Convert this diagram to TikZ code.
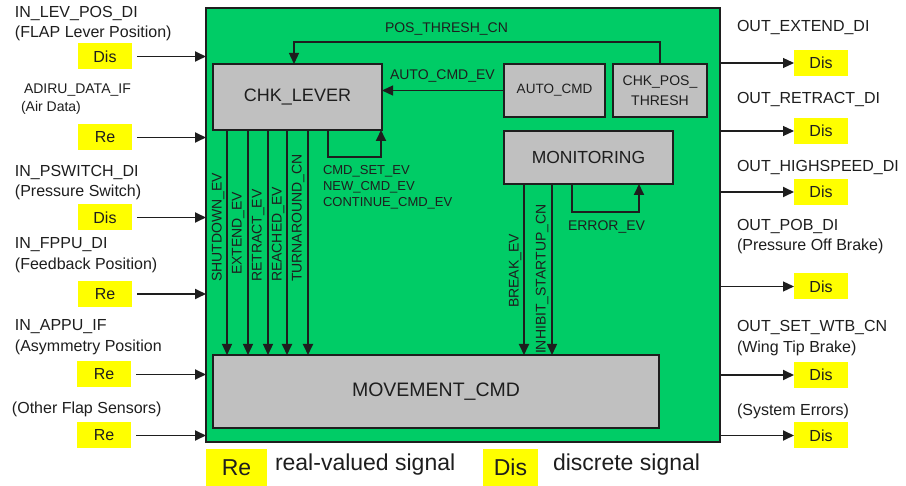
\documentclass[tikz,border=0pt]{standalone}
\usepackage{fontspec}
\setmainfont{Liberation Sans}
\usetikzlibrary{arrows.meta}
\definecolor{bggreen}{RGB}{0,204,102}
\definecolor{boxgray}{RGB}{192,192,192}
\definecolor{sigyellow}{RGB}{255,255,0}
\definecolor{ink}{RGB}{30,30,30}
\begin{document}
\begin{tikzpicture}[x=1pt,y=-1pt,
 lab/.style={anchor=west, inner sep=0pt, outer sep=0pt, text height=0.72em, text depth=0pt, text=ink, font=\fontsize{16}{19}\selectfont},
 slab/.style={lab, font=\fontsize{14}{17}\selectfont},
 elab/.style={lab, font=\fontsize{13}{16}\selectfont},
 vlab/.style={lab, rotate=90, font=\fontsize{14}{17}\selectfont},
 gbox/.style={draw=ink, line width=1.3pt, fill=boxgray, inner sep=0pt, outer sep=0pt, text=ink, align=center},
 sig/.style={fill=sigyellow, inner sep=0pt, outer sep=0pt, minimum width=54, minimum height=26, text=ink, font=\fontsize{16}{19}\selectfont},
 arr/.style={draw=ink, line width=1.5pt, -{Triangle[length=11pt,width=10pt]}},
]
\useasboundingbox (0,0) rectangle (906,486);
\fill[white] (0,0) rectangle (906,486);

% main block
\node[draw=ink, line width=1.3pt, fill=bggreen, minimum width=514, minimum height=434, inner sep=0pt, outer sep=0pt] (green) at (463,225) {};

% inner function blocks
\node[gbox, minimum width=169, minimum height=66, font=\fontsize{18}{21}\selectfont] (chk) at (297.5,97) {CHK\_LEVER};
\node[gbox, minimum width=101, minimum height=53, font=\fontsize{13.5}{16}\selectfont] (autocmd) at (554.5,90.5) {AUTO\_CMD};
\node[gbox, minimum width=94, minimum height=53, font=\fontsize{14}{20}\selectfont] (chkpos) at (660,90.5) {CHK\_POS\_\\THRESH};
\node[gbox, minimum width=169, minimum height=53, font=\fontsize{17.5}{21}\selectfont] (mon) at (588.5,157.5) {MONITORING};
\node[gbox, minimum width=446, minimum height=73, font=\fontsize{19.5}{23}\selectfont] (move) at (436,391.5) {MOVEMENT\_CMD};

% internal connectors
\draw[arr, line width=1.3pt] (chkpos.north) -- ++(0,-22) -| ([xshift=-3.5]chk.north);
\node[slab] (lpos) at (385,29) {POS\_THRESH\_CN};
\draw[arr, line width=1.3pt] (autocmd.west) -- (autocmd.west -| chk.east);
\node[slab] (lauto) at (390,76) {AUTO\_CMD\_EV};
\draw[arr, line width=1.8pt] ([xshift=30.5]chk.south) -- ++(0,27) -| ([xshift=83.5]chk.south);
\node[elab] (lc1) at (323,171) {CMD\_SET\_EV};
\node[elab] (lc2) at (323,187) {NEW\_CMD\_EV};
\node[elab] (lc3) at (323,203) {CONTINUE\_CMD\_EV};

\draw[arr, line width=1.2pt] ([xshift=-70.5]chk.south) coordinate (s1) -- (s1 |- move.north);
\draw[arr, line width=1.2pt] ([xshift=-49.5]chk.south) coordinate (s2) -- (s2 |- move.north);
\draw[arr, line width=1.2pt] ([xshift=-29.5]chk.south) coordinate (s3) -- (s3 |- move.north);
\draw[arr, line width=1.8pt] ([xshift=-10.5]chk.south) coordinate (s4) -- (s4 |- move.north);
\draw[arr, line width=1.8pt] ([xshift=10.5]chk.south) coordinate (s5) -- (s5 |- move.north);
\node[vlab] (v1) at (218,282) {SHUTDOWN\_EV};
\node[vlab] (v2) at (238,275) {EXTEND\_EV};
\node[vlab] (v3) at (258,282) {RETRACT\_EV};
\node[vlab] (v4) at (278,282) {REACHED\_EV};
\node[vlab] (v5) at (298,282) {TURNAROUND\_CN};

\draw[arr, line width=1.8pt] ([xshift=-64.5]mon.south) coordinate (m1) -- (m1 |- move.north);
\draw[arr, line width=1.5pt] ([xshift=-36.5]mon.south) coordinate (m2) -- (m2 |- move.north);
\node[vlab] (vb) at (515,308) {BREAK\_EV};
\node[vlab] (vi) at (542,354) {INHIBIT\_STARTUP\_CN};
\draw[arr, line width=1.8pt] ([xshift=-16.5]mon.south) -- ++(0,28) -| ([xshift=50.5]mon.south);
\node[slab] (lerr) at (568,227) {ERROR\_EV};

% inputs
\node[lab] (t1a) at (15,14) {IN\_LEV\_POS\_DI};
\node[lab] (t1b) at (15,34) {(FLAP Lever Position)};
\node[sig] (i1) at (105,56.5) {Dis};
\node[slab] (t2a) at (24,90) {ADIRU\_DATA\_IF};
\node[slab] (t2b) at (21,108) {(Air Data)};
\node[sig] (i2) at (105,137.5) {Re};
\node[lab] (t3a) at (15,173) {IN\_PSWITCH\_DI};
\node[lab] (t3b) at (15,193) {(Pressure Switch)};
\node[sig] (i3) at (105,217.5) {Dis};
\node[lab] (t4a) at (15,245) {IN\_FPPU\_DI};
\node[lab] (t4b) at (15,266) {(Feedback Position)};
\node[sig] (i4) at (105,294) {Re};
\node[lab] (t5a) at (15,327) {IN\_APPU\_IF};
\node[lab] (t5b) at (15,348) {(Asymmetry Position};
\node[sig] (i5) at (104,374.5) {Re};
\node[lab] (t6a) at (12,410) {(Other Flap Sensors)};
\node[sig] (i6) at (104,435.5) {Re};
\foreach \i in {i1,i2,i3,i4,i5,i6}{
  \draw[arr, line width=1.8pt] ([xshift=5]\i.east) -- (\i.east -| green.west);
}

% outputs
\node[lab] (u1a) at (737,28) {OUT\_EXTEND\_DI};
\node[sig] (o1) at (821,63) {Dis};
\node[lab] (u2a) at (737,100) {OUT\_RETRACT\_DI};
\node[sig] (o2) at (821,131) {Dis};
\node[lab] (u3a) at (737,168) {OUT\_HIGHSPEED\_DI};
\node[sig] (o3) at (821,192) {Dis};
\node[lab] (u4a) at (737,227) {OUT\_POB\_DI};
\node[lab] (u4b) at (737,247) {(Pressure Off Brake)};
\node[sig] (o4) at (821,286.5) {Dis};
\node[lab] (u5a) at (737,328) {OUT\_SET\_WTB\_CN};
\node[lab] (u5b) at (737,349) {(Wing Tip Brake)};
\node[sig] (o5) at (821,375) {Dis};
\node[lab] (u6a) at (737,412) {(System Errors)};
\node[sig] (o6) at (821,435.5) {Dis};
\draw[arr, line width=1.2pt] (green.east |- o1.west) -- (o1.west);
\draw[arr, line width=1.2pt] (green.east |- o2.west) -- (o2.west);
\draw[arr, line width=1.8pt] (green.east |- o3.west) -- (o3.west);
\draw[arr, line width=1.2pt] (green.east |- o4.west) -- (o4.west);
\draw[arr, line width=1.8pt] (green.east |- o5.west) -- (o5.west);
\draw[arr, line width=1.8pt] (green.east |- o6.west) -- (o6.west);

% legend
\node[sig, minimum width=61, minimum height=37, font=\fontsize{23}{27}\selectfont] (lre) at (236.5,467.5) {Re};
\node[lab, font=\fontsize{23}{27}\selectfont] (lret) at (275,467) {real-valued signal};
\node[sig, minimum width=55, minimum height=37, font=\fontsize{23}{27}\selectfont] (ldis) at (510.5,467.5) {Dis};
\node[lab, font=\fontsize{23}{27}\selectfont] (ldist) at (553,467) {discrete signal};
\end{tikzpicture}
\end{document}
